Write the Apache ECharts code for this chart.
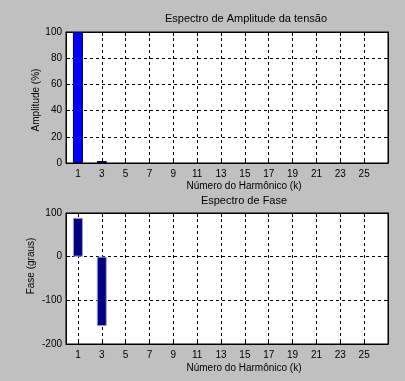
<!DOCTYPE html>
<html>
<head>
<meta charset="utf-8">
<script src="https://cdn.jsdelivr.net/npm/echarts@6/dist/echarts.min.js"></script>
<style>
  html, body { margin: 0; padding: 0; background: #c0c0c0; }
  #chart { width: 405px; height: 381px; }
</style>
</head>
<body>
<div id="chart"></div>
<script>
// Harmonic orders 1..26 and the tick labels shown on the x axes
const harmonics = [1,2,3,4,5,6,7,8,9,10,11,12,13,14,15,16,17,18,19,20,21,22,23,24,25,26];
const harmonicTicks = [1,3,5,7,9,11,13,15,17,19,21,23,25];

// Voltage amplitude spectrum (% of fundamental)
const amplitude = [100,0,1.5,0,0,0,0,0,0,0,0,0,0,0,0,0,0,0,0,0,0,0,0,0,0,0];

// Phase spectrum (degrees)
const phase = [89,0,-159,0,0,0,0,0,0,0,0,0,0,0,0,0,0,0,0,0,0,0,0,0,0,0];

const FONT = "'Liberation Sans', Arial, sans-serif";

// Bars of zero height are left invisible so they do not draw a line on the baseline
function items(values) {
  return harmonics.map((k, i) => ({
    value: [k, values[i]],
    itemStyle: values[i] === 0 ? { borderWidth: 0, opacity: 0 } : undefined
  }));
}

function xAxes(gridIndex) {
  return [
    {
      gridIndex, type: 'value', min: 0, max: 27, position: 'bottom',
      axisLine: { show: true, onZero: false, lineStyle: { color: '#000', width: 1 } },
      axisTick: { show: true, inside: true, length: 4, customValues: harmonicTicks, lineStyle: { color: '#000' } },
      axisLabel: { show: true, customValues: harmonicTicks, color: '#000', fontFamily: FONT, fontSize: 10, margin: 6 },
      splitLine: { show: true, lineStyle: { color: '#000', width: 1, type: [3, 3] } }
    },
    {
      gridIndex, type: 'value', min: 0, max: 27, position: 'top',
      axisLine: { show: true, onZero: false, lineStyle: { color: '#000', width: 1 } },
      axisTick: { show: true, inside: true, length: 4, customValues: harmonicTicks, lineStyle: { color: '#000' } },
      axisLabel: { show: false, customValues: harmonicTicks },
      splitLine: { show: false }
    }
  ];
}

function yAxes(gridIndex, min, max, interval) {
  return [
    {
      gridIndex, type: 'value', min, max, interval, position: 'left',
      axisLine: { show: true, onZero: false, lineStyle: { color: '#000', width: 1 } },
      axisTick: { show: true, inside: true, length: 4, lineStyle: { color: '#000' } },
      axisLabel: { color: '#000', fontFamily: FONT, fontSize: 10, margin: 4 },
      splitLine: { show: true, lineStyle: { color: '#000', width: 1, type: [3, 3] } }
    },
    {
      gridIndex, type: 'value', min, max, interval, position: 'right',
      axisLine: { show: true, onZero: false, lineStyle: { color: '#000', width: 1 } },
      axisTick: { show: true, inside: true, length: 4, lineStyle: { color: '#000' } },
      axisLabel: { show: false },
      splitLine: { show: false }
    }
  ];
}

function label(text, x, y, size, rotation) {
  return {
    type: 'text', x, y, rotation: rotation || 0, silent: true,
    style: {
      text, fill: '#000', fontFamily: FONT, fontSize: size,
      align: 'center', verticalAlign: 'middle'
    }
  };
}

const chart = echarts.init(document.getElementById('chart'), null, { renderer: 'canvas' });

chart.setOption({
  backgroundColor: '#c0c0c0',
  animation: false,
  graphic: [
    label('Espectro de Amplitude da tensão', 246, 19, 11),
    label('Número do Harmônico (k)', 244, 186, 10),
    label('Amplitude (%)', 36, 100, 10, Math.PI / 2),
    label('Espectro de Fase', 244, 201, 11),
    label('Número do Harmônico (k)', 244, 368, 10),
    label('Fase (graus)', 31, 266, 10, Math.PI / 2)
  ],
  grid: [
    { left: 66, right: 17, top: 32, height: 131, show: true, backgroundColor: '#fff', borderColor: '#000', borderWidth: 1 },
    { left: 66, right: 17, top: 213, height: 131, show: true, backgroundColor: '#fff', borderColor: '#000', borderWidth: 1 }
  ],
  xAxis: [...xAxes(0), ...xAxes(1)],
  yAxis: [
    ...yAxes(0, 0, 100, 20),
    ...yAxes(1, -200, 100, 100)
  ],
  series: [
    {
      type: 'bar', xAxisIndex: 0, yAxisIndex: 0, data: items(amplitude),
      barWidth: 10,
      itemStyle: { color: '#0000ff', borderColor: '#000040', borderWidth: 1 }
    },
    {
      type: 'bar', xAxisIndex: 2, yAxisIndex: 2, data: items(phase),
      barWidth: 10,
      itemStyle: { color: '#000080', borderColor: '#a0a0c0', borderWidth: 1 }
    }
  ]
});
</script>
</body>
</html>
